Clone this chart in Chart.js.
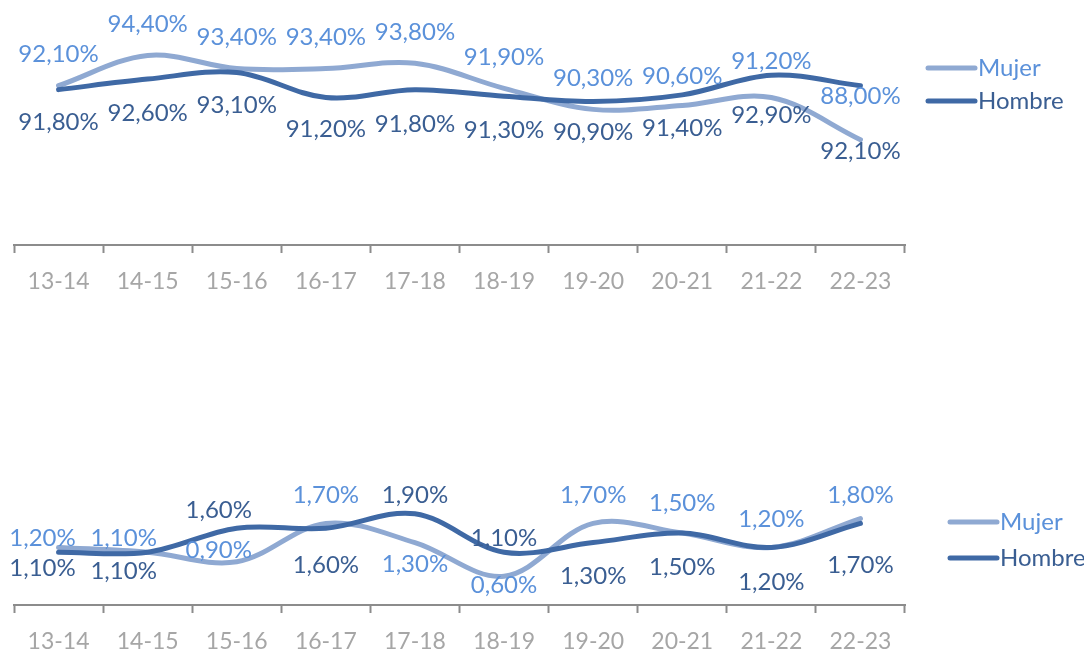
<!DOCTYPE html>
<html lang="es">
<head>
<meta charset="UTF-8">
<title>Mujer / Hombre</title>
<script src="https://cdn.jsdelivr.net/npm/chart.js"></script>
<style>
    body { margin: 0; background: #fff; }
    #wrap { position: relative; width: 1084px; height: 650px; }
    #topChart { position: absolute; left: 0; top: 0; }
    #bottomChart { position: absolute; left: 0; top: 300px; }
</style>
</head>
<body>
<div id="wrap">
    <canvas id="topChart" width="1084" height="300"></canvas>
    <canvas id="bottomChart" width="1084" height="350"></canvas>
</div>
<script>
// cursos
const cursos = ['13-14', '14-15', '15-16', '16-17', '17-18', '18-19', '19-20', '20-21', '21-22', '22-23'];

// grafico de arriba (%)
const mujerTop = [92.1, 94.4, 93.4, 93.4, 93.8, 91.9, 90.3, 90.6, 91.2, 88.0];
const hombreTop = [91.8, 92.6, 93.1, 91.2, 91.8, 91.3, 90.9, 91.4, 92.9, 92.1];

// grafico de abajo (%)
const mujerBottom = [1.2, 1.1, 0.9, 1.7, 1.3, 0.6, 1.7, 1.5, 1.2, 1.8];
const hombreBottom = [1.1, 1.1, 1.6, 1.6, 1.9, 1.1, 1.3, 1.5, 1.2, 1.7];

const colMujer = '#8FA9D2';
const colHombre = '#3F69A5';
const txtMujer = '#5B91DA';
const txtHombre = '#3A5E92';
const FONT = 'Lato, "Open Sans", sans-serif';

// desplazamiento de etiquetas respecto al punto (px)
const labelOffsets = {
    topChart: {
        dy: [[-31, -31, -31, -31, -31, -31, -31, -29, -36, -43],
             [33, 34, 33, 32, 35, 34, 31, 33, 40, 66]],
        dx: [0, 0, 0, 0, 0, 0, 0, 0, 0, 0]
    },
    bottomChart: {
        dy: [[-9, -14, -12, -28, 22, 9, -28, -30, -28, -23],
             [16, 19, -18, 37, -19, -14, 34, 34, 35, 42]],
        dx: [-16, -24, -18, 0, 0, 0, 0, 0, 0, 0]
    }
};

function fmt(v) {
    return v.toFixed(2).replace('.', ',') + '%';
}

const labelPlugin = {
    id: 'valueLabels',
    afterDatasetsDraw(chart) {
        const offs = labelOffsets[chart.canvas.id];
        const ctx = chart.ctx;
        ctx.save();
        ctx.font = '24px ' + FONT;
        ctx.textAlign = 'center';
        ctx.textBaseline = 'middle';
        chart.data.datasets.forEach((ds, di) => {
            const meta = chart.getDatasetMeta(di);
            ctx.fillStyle = ds.labelColor;
            meta.data.forEach((pt, i) => {
                ctx.fillText(fmt(ds.data[i]), pt.x + offs.dx[i], pt.y + offs.dy[di][i]);
            });
        });
        ctx.restore();
    }
};

const legendPlugin = {
    id: 'sideLegend',
    afterDraw(chart, args, opts) {
        const ctx = chart.ctx;
        const x0 = chart.chartArea.right + opts.dx;
        ctx.save();
        ctx.font = '24px ' + FONT;
        ctx.textBaseline = 'middle';
        ctx.lineCap = 'round';
        chart.data.datasets.forEach((ds, i) => {
            const y = opts.y + i * opts.gap;
            ctx.strokeStyle = ds.borderColor;
            ctx.lineWidth = 5;
            ctx.beginPath();
            ctx.moveTo(x0, y);
            ctx.lineTo(x0 + 47, y);
            ctx.stroke();
            ctx.fillStyle = ds.labelColor;
            ctx.fillText(ds.label, x0 + 50, y);
        });
        ctx.restore();
    }
};

function makeChart(id, mujer, hombre, yMin, yMax, pad, legendPos) {
    return new Chart(document.getElementById(id), {
        type: 'line',
        data: {
            labels: cursos,
            datasets: [
                { label: 'Mujer', data: mujer, borderColor: colMujer, labelColor: txtMujer, order: 1 },
                { label: 'Hombre', data: hombre, borderColor: colHombre, labelColor: txtHombre, order: 0 }
            ]
        },
        options: {
            responsive: false,
            animation: false,
            events: [],
            layout: { padding: pad },
            elements: {
                line: { borderWidth: 5, tension: 0.35, borderCapStyle: 'round', fill: false },
                point: { radius: 0 }
            },
            scales: {
                x: {
                    offset: true,
                    afterFit: (s) => { s.height = 45; },
                    grid: {
                        offset: true,
                        drawOnChartArea: false,
                        drawTicks: true,
                        tickLength: 8,
                        tickWidth: 2,
                        tickColor: '#8C8C8C'
                    },
                    border: { display: true, color: '#8C8C8C', width: 2 },
                    ticks: { color: '#A6A6A6', font: { family: FONT, size: 23 }, padding: 15, maxRotation: 0 }
                },
                y: { display: false, min: yMin, max: yMax }
            },
            plugins: {
                legend: { display: false },
                tooltip: { enabled: false },
                sideLegend: legendPos
            }
        },
        plugins: [labelPlugin, legendPlugin]
    });
}

makeChart('topChart', mujerTop, hombreTop, 80, 98,
    { left: 14, right: 179, top: 8, bottom: 10 },
    { dx: 23, y: 68, gap: 33 });

makeChart('bottomChart', mujerBottom, hombreBottom, 0, 2.5,
    { left: 14, right: 179, top: 185, bottom: 0 },
    { dx: 45, y: 222, gap: 36 });
</script>
</body>
</html>
